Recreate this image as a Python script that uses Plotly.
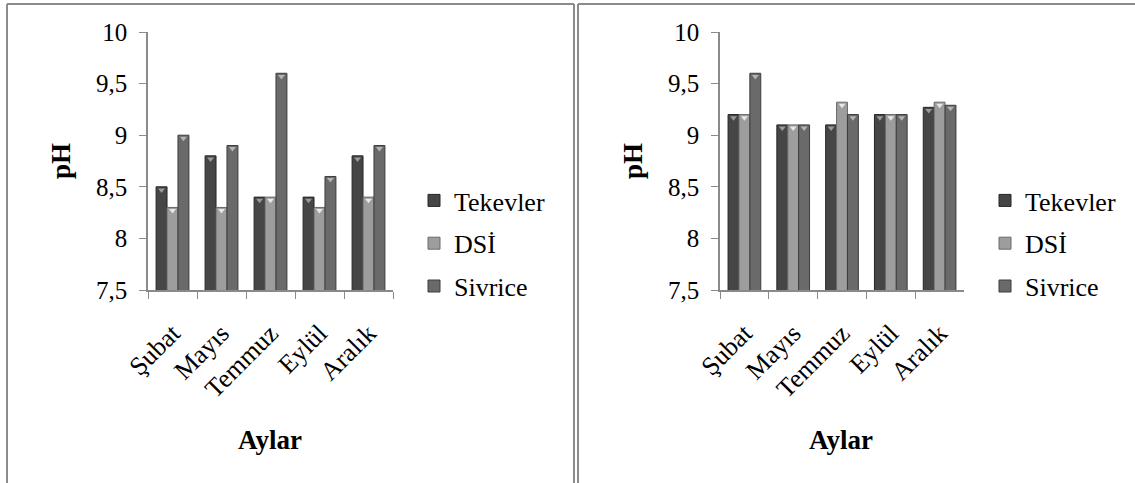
import plotly.graph_objects as go

months = ["Şubat", "Mayıs", "Temmuz", "Eylül", "Aralık"]
stations = ["Tekevler", "DSİ", "Sivrice"]

# pH values, first sampling set (left panel)
ph_left_tekevler = [8.5, 8.8, 8.4, 8.4, 8.8]
ph_left_dsi = [8.3, 8.3, 8.4, 8.3, 8.4]
ph_left_sivrice = [9.0, 8.9, 9.6, 8.6, 8.9]

# pH values, second sampling set (right panel)
ph_right_tekevler = [9.2, 9.1, 9.1, 9.2, 9.27]
ph_right_dsi = [9.2, 9.1, 9.32, 9.2, 9.32]
ph_right_sivrice = [9.6, 9.1, 9.2, 9.2, 9.29]

y_ticks = [7.5, 8, 8.5, 9, 9.5, 10]
y_tick_text = ["7,5", "8", "8,5", "9", "9,5", "10"]

fill_colors = ["#464646", "#9d9d9d", "#6a6a6a"]
edge_colors = ["#262626", "#6a6a6a", "#3c3c3c"]
cap_colors = ["#9a9a9a", "#e8e8e8", "#b4b4b4"]

W, H = 1135, 483
FONT = "Times New Roman, Liberation Serif, serif"


def px_x(p):
    return p / W


def px_y(p):
    return 1 - p / H


fig = go.Figure()

panels = [
    ("x", "y", "legend", [ph_left_tekevler, ph_left_dsi, ph_left_sivrice]),
    ("x2", "y2", "legend2", [ph_right_tekevler, ph_right_dsi, ph_right_sivrice]),
]

for xa, ya, lg, series in panels:
    for i, (name, vals) in enumerate(zip(stations, series)):
        fig.add_trace(go.Bar(
            x=months, y=vals, name=name, xaxis=xa, yaxis=ya,
            offsetgroup=str(i), legend=lg, legendgroup=lg + name,
            marker=dict(color=fill_colors[i],
                        line=dict(color=edge_colors[i], width=1)),
        ))
    # small bevel markers sitting on each bar top
    for i, (name, vals) in enumerate(zip(stations, series)):
        fig.add_trace(go.Scatter(
            x=months, y=[v - 0.03 for v in vals], xaxis=xa, yaxis=ya,
            offsetgroup=str(i), mode="markers", showlegend=False,
            hoverinfo="skip",
            marker=dict(symbol="triangle-down", size=6, color=cap_colors[i],
                        line=dict(width=0)),
        ))

x_font = dict(family=FONT, size=26, color="#000000")
y_font = dict(family=FONT, size=25, color="#000000")

common_x = dict(
    type="category", showline=True, linecolor="#8a8a8a", linewidth=1.5,
    ticks="outside", ticklen=7, tickcolor="#8a8a8a", tickson="boundaries",
    tickangle=-45, tickfont=x_font, showgrid=False, zeroline=False,
    ticklabelstandoff=16, fixedrange=True, automargin=False,
)
common_y = dict(
    range=[7.5, 10], tickvals=y_ticks, ticktext=y_tick_text,
    showline=True, linecolor="#8a8a8a", linewidth=1.5,
    ticks="outside", ticklen=7, tickcolor="#8a8a8a",
    tickfont=y_font, showgrid=False, zeroline=False,
    ticklabelstandoff=7, fixedrange=True, automargin=False,
)

y_dom = [px_y(290), px_y(32)]
legend_font = dict(family=FONT, size=26, color="#000000")
fig.update_layout(
    template="none",
    width=W, height=H,
    margin=dict(l=0, r=0, t=0, b=0, autoexpand=False),
    font=dict(family=FONT, color="#000000"),
    paper_bgcolor="white", plot_bgcolor="white",
    barmode="group", bargap=0.33, bargroupgap=0.0,
    scattermode="group", scattergap=0.33,
    xaxis=dict(domain=[px_x(148), px_x(393)], anchor="y", **common_x),
    yaxis=dict(domain=y_dom, anchor="x", **common_y),
    xaxis2=dict(domain=[px_x(720), px_x(964)], anchor="y2", **common_x),
    yaxis2=dict(domain=y_dom, anchor="x2", **common_y),
    legend=dict(x=px_x(414), y=px_y(177), xanchor="left", yanchor="top",
                font=legend_font, tracegroupgap=6,
                bgcolor="rgba(0,0,0,0)", borderwidth=0),
    legend2=dict(x=px_x(985), y=px_y(177), xanchor="left", yanchor="top",
                 font=legend_font, tracegroupgap=6,
                 bgcolor="rgba(0,0,0,0)", borderwidth=0),
    showlegend=True,
)

# axis titles
title_font = dict(family=FONT, size=27, color="#000000")
for cx in (px_x(61), px_x(633)):
    fig.add_annotation(text="<b>pH</b>", x=cx, y=px_y(161), xref="paper",
                       yref="paper", showarrow=False, textangle=-90,
                       font=title_font, xanchor="center", yanchor="middle")
for cx in (px_x(270), px_x(841)):
    fig.add_annotation(text="<b>Aylar</b>", x=cx, y=px_y(440), xref="paper",
                       yref="paper", showarrow=False, font=title_font,
                       xanchor="center", yanchor="middle")

# panel frames
frame = dict(color="#8c8c8c", width=2)
fig.add_shape(type="line", xref="paper", yref="paper", x0=px_x(7), x1=px_x(574),
              y0=px_y(4), y1=px_y(4), line=frame)
fig.add_shape(type="line", xref="paper", yref="paper", x0=px_x(7), x1=px_x(7),
              y0=px_y(4), y1=0, line=frame)
fig.add_shape(type="line", xref="paper", yref="paper", x0=px_x(574), x1=px_x(574),
              y0=px_y(4), y1=0, line=frame)
fig.add_shape(type="line", xref="paper", yref="paper", x0=px_x(578), x1=1,
              y0=px_y(4), y1=px_y(4), line=frame)
fig.add_shape(type="line", xref="paper", yref="paper", x0=px_x(578), x1=px_x(578),
              y0=px_y(4), y1=0, line=frame)

fig.write_html("out.html")
